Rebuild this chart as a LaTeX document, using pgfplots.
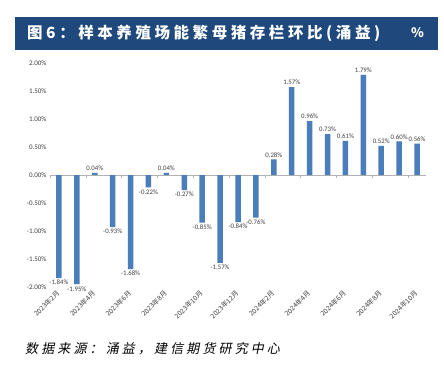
\documentclass[border=0pt]{standalone}
\usepackage{fontspec}
\usepackage{pgfplots}
\pgfplotsset{compat=1.18}
\setmainfont{Carlito}
\newfontfamily\cjk{Noto Sans CJK SC}
\newfontfamily\cjktitle{Noto Sans CJK SC}[LetterSpace=23]
\newfontfamily\cjkit{Noto Sans CJK SC}[FakeSlant=0.2,LetterSpace=24]
\definecolor{barblue}{RGB}{74,126,187}
\definecolor{titleblue}{RGB}{31,73,125}
\definecolor{txtgray}{RGB}{64,64,64}
\begin{document}
\begin{tikzpicture}[x=1bp,y=1bp]
\path[use as bounding box,fill=white] (0,0) rectangle (444,366);
% title bar
\fill[titleblue] (15,316) rectangle (438,349);
\node[anchor=west,text=white,inner sep=0] at (27,333) {\cjktitle\bfseries\fontsize{15.5bp}{16bp}\selectfont 图6：样本养殖场能繁母猪存栏环比(涌益)};
\node[anchor=west,text=white,inner sep=0] at (411,333) {\cjk\bfseries\fontsize{13bp}{14bp}\selectfont \%};
% caption
\node[anchor=west,inner sep=0] at (25,17) {\cjkit\fontsize{13bp}{14bp}\selectfont 数据来源：涌益，建信期货研究中心};
\begin{axis}[
  at={(50bp,79bp)}, anchor=south west,
  scale only axis, width=376bp, height=224bp,
  xmin=-0.5, xmax=20.5, ymin=-2, ymax=2,
  separate axis lines,
  axis x line*=bottom, axis y line*=left,
  x axis line style={draw=none}, y axis line style={draw=none},
  xtick={0,2,4,6,8,10,12,14,16,18,20},
  xticklabels={2023年2月,2023年4月,2023年6月,2023年8月,2023年10月,2023年12月,2024年2月,2024年4月,2024年6月,2024年8月,2024年10月},
  xticklabel style={font=\cjk\fontsize{6.8bp}{7bp}\selectfont, rotate=45, anchor=east, text=txtgray, inner sep=1bp},
  ytick={-2,-1.5,-1,-0.5,0,0.5,1,1.5,2},
  yticklabel={\pgfmathprintnumber[fixed,fixed zerofill,precision=2]{\tick}\%},
  yticklabel style={font=\fontsize{7bp}{8bp}\selectfont, text=txtgray},
  /pgf/number format/assume math mode=true,
  tick style={draw=none},
  ybar, bar width=5.5bp,
  nodes near coords={\pgfmathprintnumber[fixed,fixed zerofill,precision=2]{\pgfplotspointmeta}\%},
  nodes near coords align={vertical},
  every node near coord/.append style={font=\fontsize{6.8bp}{7bp}\selectfont, text=txtgray, inner sep=2bp},
  clip=false,
]
\draw[gray!60, line width=0.6bp] (axis cs:-0.5,0) -- (axis cs:20.5,0);
\pgfplotsinvokeforeach{-0.5,1.5,3.5,5.5,7.5,9.5,11.5,13.5,15.5,17.5,19.5}{
  \draw[gray!60, line width=0.5bp] (axis cs:#1,0) -- (axis cs:#1,-0.05);
}
\addplot[fill=barblue, draw=none] coordinates {
(0,-1.84) (1,-1.95) (2,0.04) (3,-0.93) (4,-1.68) (5,-0.22) (6,0.04)
(7,-0.27) (8,-0.85) (9,-1.57) (10,-0.84) (11,-0.76) (12,0.28) (13,1.57)
(14,0.96) (15,0.73) (16,0.61) (17,1.79) (18,0.52) (19,0.60) (20,0.56)
};
\end{axis}
\end{tikzpicture}
\end{document}
